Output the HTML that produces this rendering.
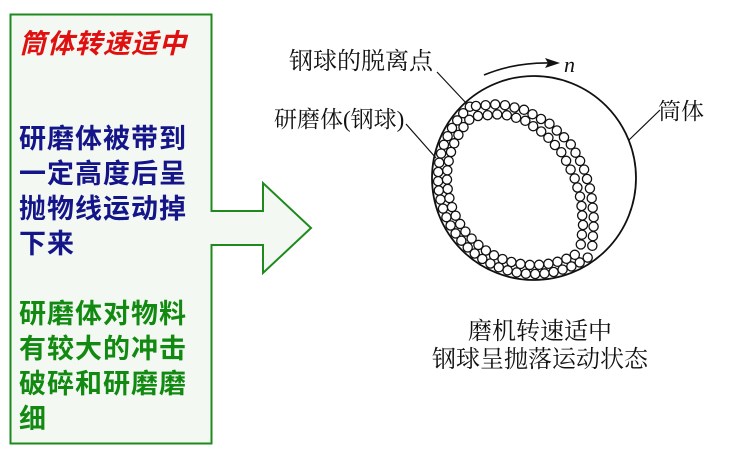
<!DOCTYPE html>
<html><head><meta charset="utf-8"><style>
body{margin:0;width:734px;height:449px;background:#fff;overflow:hidden;position:relative;font-family:"Liberation Sans","Noto Sans CJK SC",sans-serif}
.t{position:absolute;left:19px;font-size:27px;font-weight:bold;white-space:nowrap;letter-spacing:1px;line-height:35px}
.lab{position:absolute;font-family:"Liberation Serif","Noto Serif CJK SC",serif;font-size:23px;color:#111;white-space:nowrap;line-height:28px}
</style></head><body>
<svg width="734" height="449" style="position:absolute;left:0;top:0">
<path d="M10.5 14.5H211.5V211H263V183L311 228L263 273V245H211.5V443.5H10.5Z" fill="#f3f9f2" stroke="#1e8a1e" stroke-width="2"/>
<circle cx="534" cy="178" r="102" fill="none" stroke="#111" stroke-width="1.8"/>
<g id="balls" fill="#fff" stroke="#111" stroke-width="1.3"></g>
<line x1="437" y1="72" x2="467" y2="104" stroke="#111" stroke-width="1.2"/>
<line x1="406" y1="124" x2="436" y2="158" stroke="#111" stroke-width="1.2"/>
<line x1="629" y1="140" x2="660" y2="110" stroke="#111" stroke-width="1.2"/>
<path d="M484 75Q515 62 552 63" fill="none" stroke="#111" stroke-width="1.6"/>
<path d="M560 63L545 58L548 63L545 68Z" fill="#111"/>
<text x="564" y="72" font-family="Liberation Serif,serif" font-style="italic" font-size="22" fill="#111">n</text>
</svg>
<div class="t" style="top:27px;color:#e01010;font-style:italic">筒体转速适中</div>
<div class="t" style="top:122px;color:#15158a">研磨体被带到<br>一定高度后呈<br>抛物线运动掉<br>下来</div>
<div class="t" style="top:297px;color:#128a12">研磨体对物料<br>有较大的冲击<br>破碎和研磨磨<br>细</div>
<div class="lab" style="left:289px;top:48px;font-size:24px">钢球的脱离点</div>
<div class="lab" style="left:274px;top:106px">研磨体(钢球)</div>
<div class="lab" style="left:658px;top:98px">筒体</div>
<div class="lab" style="left:400px;top:318px;font-size:24px;width:280px;text-align:center;line-height:28px">磨机转速适中<br>钢球呈抛落运动状态</div>
<script>
var g=document.getElementById('balls'),ns='http://www.w3.org/2000/svg';
function b(x,y){var c=document.createElementNS(ns,'circle');c.setAttribute('cx',x.toFixed(1));c.setAttribute('cy',y.toFixed(1));c.setAttribute('r',4.6);g.appendChild(c);}
var cx=534,cy=178;
function arc(r,a0,a1){var len=Math.abs(a1-a0)*Math.PI/180*r,n=Math.round(len/9.4);for(var i=0;i<=n;i++){var a=(a0+(a1-a0)*i/n)*Math.PI/180;b(cx+r*Math.cos(a),cy+r*Math.sin(a));}}
arc(96,228,56);arc(87,222,62);
function curve(pts){var P=[];for(var i=0;i<pts.length-1;i++){for(var t=0;t<1;t+=0.02){P.push([pts[i][0]+(pts[i+1][0]-pts[i][0])*t,pts[i][1]+(pts[i+1][1]-pts[i][1])*t]);}}
var last=null;P.forEach(function(p){if(!last){b(p[0],p[1]);last=p;return;}if(Math.hypot(p[0]-last[0],p[1]-last[1])>=9.4){b(p[0],p[1]);last=p;}});}
curve([[476,106],[500,104],[525,110],[550,124],[570,143],[583,166],[591,192],[594,220],[592,250]]);
curve([[478,116],[502,114],[524,120],[545,134],[562,153],[574,176],[581,200],[583,225],[580,252]]);
</script>
</body></html>
